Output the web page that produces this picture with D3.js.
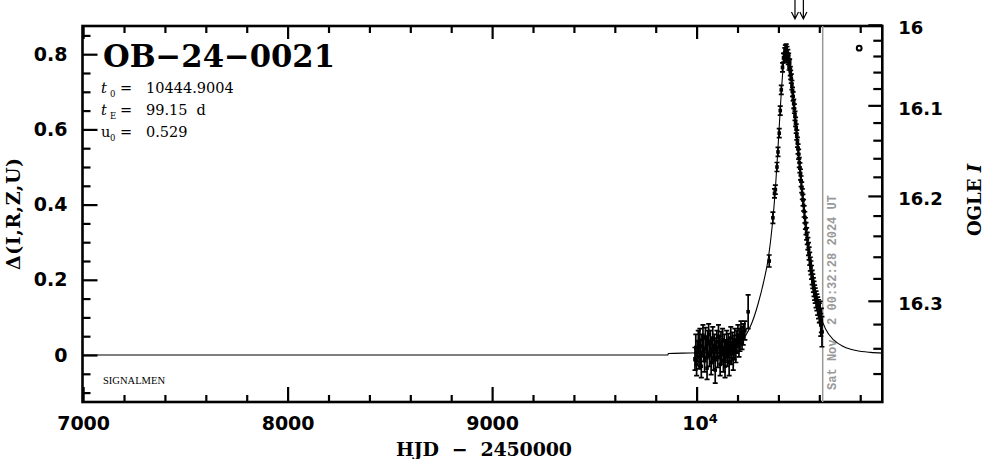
<!DOCTYPE html>
<html><head><meta charset="utf-8">
<script src="https://cdn.jsdelivr.net/npm/d3@7"></script>
<style>body{margin:0;background:#fff}svg{display:block;background:#fff}</style>
</head><body>
<svg id="chart" width="986" height="459"></svg>
<script>
// ---------------- data ----------------
const titleText = "OB\u221224\u22120021";
const paramSymbols = ["t", "t", "u"];
const paramSubs = ["0", "E", "0"];
const paramValues = ["10444.9004", "99.15", "0.529"];
const paramUnits = ["", "d", ""];
const dateLineHJD = 10616.52;
const dateLineText = "Sat Nov  2 00:32:28 2024 UT";
const arrowHJD = [10481, 10522];
const markerHJD = [10795];
const markerDelta = [0.816];

const xMajorTicks = [7000, 8000, 9000, 10000];
const xTickLabels = ["7000", "8000", "9000", "10"];
const xMinorTicks = [7200,7400,7600,7800,8200,8400,8600,8800,9200,9400,9600,9800,10200,10400,10600,10800];
const yMajorTicks = [0, 0.2, 0.4, 0.6, 0.8];
const yTickLabels = ["0", "0.2", "0.4", "0.6", "0.8"];
const yMinorTicks = [-0.1,-0.05,0.05,0.1,0.15,0.25,0.3,0.35,0.45,0.5,0.55,0.65,0.7,0.75,0.85];
const rightMajorTicks = [16.0, 16.1, 16.2, 16.3];
const rightTickLabels = ["16", "16.1", "16.2", "16.3"];
const rightMinorTicks = [16.02,16.04,16.06,16.08,16.12,16.14,16.16,16.18,16.22,16.24,16.26,16.28,16.32,16.34,16.36];
const baseMag = 16.345;
const blendFrac = 0.301;

// model curve
const modelHJD =   [6997, 9860, 9861, 10000, 10100, 10160, 10200, 10240, 10270, 10300, 10330, 10350, 10370, 10385, 10400, 10412, 10425, 10435, 10443, 10452, 10465, 10480, 10495, 10510, 10530, 10555, 10580, 10605, 10630, 10670, 10720, 10780, 10850, 10908];
const modelDelta = [0,    0,    0.004,0.006, 0.011, 0.019, 0.030, 0.052, 0.085, 0.135, 0.200, 0.255, 0.345, 0.440, 0.570, 0.680, 0.775, 0.805, 0.810, 0.785, 0.725, 0.640, 0.555, 0.468, 0.360, 0.248, 0.160, 0.105, 0.070, 0.040, 0.022, 0.012, 0.007, 0.005];

// photometry
const dataHJD = [
 9992,9996,10000,10004,10008,10012,10016,10019,10023,10027,10031,10035,10039,10043,10047,10051,10055,10059,10063,10067,
 10071,10075,10079,10083,10087,10091,10095,10099,10103,10107,10111,10115,10119,10123,10127,10131,10135,10139,10143,10147,
 10151,10155,10159,10163,10167,10171,10175,10179,10183,10187,10192,10197,10202,10207,10212,10217,10222,10228,10236,10252,
 10355,10373,10381,10385,10393,10398,10404,10409,10414,10420,10425,
 10428,10431,10434,10436,10438,10440,10442,10444,10446,10448,10450,10452,10455,10458,
 10460,10463,10466,10469,10472,10475,10478,10481,10484,10487,10490,10493,10496,10499,10502,10505,10508,10511,10514,10517,
 10520,10523,10526,10529,10532,10535,10538,10541,10544,10547,10550,10553,10556,10559,10562,10565,10568,10571,10574,10577,
 10580,10584,10588,10592,10596,10600,10604,10607,10610,10613];
const dataDelta = [
 -0.010,0.020,-0.025,0.010,0.035,-0.005,0.040,0.005,-0.030,0.025,0.050,0.015,-0.015,0.045,0.020,-0.035,0.030,0.055,0.000,0.035,
 -0.020,0.010,0.045,-0.010,0.025,-0.040,0.015,0.035,-0.005,0.050,0.020,-0.025,0.030,0.005,0.040,-0.015,0.020,-0.030,0.010,0.035,
 0.000,0.025,-0.020,0.015,0.045,0.005,0.030,-0.010,0.020,0.040,0.010,0.035,0.050,0.025,0.040,0.060,0.045,0.055,0.065,0.115,
 0.250,0.365,0.430,0.440,0.500,0.540,0.590,0.650,0.705,0.765,0.790,
 0.790,0.805,0.812,0.800,0.815,0.795,0.808,0.790,0.800,0.785,0.790,0.770,0.775,0.755,
 0.745,0.735,0.718,0.700,0.688,0.668,0.655,0.636,0.620,0.602,0.585,0.566,0.548,0.534,0.512,0.498,0.480,0.462,0.446,0.428,
 0.412,0.398,0.382,0.366,0.350,0.336,0.322,0.310,0.296,0.282,0.270,0.256,0.242,0.232,0.220,0.206,0.196,0.186,0.176,0.166,
 0.158,0.148,0.140,0.130,0.122,0.112,0.115,0.080,0.092,0.062];
const dataErr = [
 0.030,0.035,0.030,0.028,0.030,0.032,0.030,0.035,0.030,0.030,0.030,0.032,0.030,0.028,0.030,0.030,0.035,0.028,0.030,0.030,
 0.032,0.030,0.030,0.030,0.030,0.035,0.030,0.030,0.028,0.030,0.030,0.030,0.032,0.030,0.030,0.030,0.035,0.030,0.030,0.030,
 0.030,0.032,0.035,0.030,0.030,0.030,0.030,0.030,0.032,0.030,0.030,0.030,0.030,0.030,0.030,0.030,0.030,0.028,0.025,0.045,
 0.016,0.015,0.012,0.012,0.012,0.012,0.012,0.012,0.012,0.012,0.012,
 0.012,0.012,0.012,0.012,0.012,0.012,0.012,0.012,0.012,0.012,0.012,0.012,0.012,0.012,
 0.012,0.012,0.012,0.012,0.012,0.012,0.012,0.012,0.012,0.012,0.013,0.013,0.013,0.013,0.013,0.013,0.014,0.014,0.014,0.014,
 0.015,0.015,0.015,0.015,0.015,0.016,0.016,0.016,0.016,0.017,0.017,0.017,0.018,0.018,0.018,0.019,0.019,0.019,0.020,0.020,
 0.020,0.022,0.022,0.024,0.025,0.026,0.028,0.030,0.032,0.040];

// ---------------- layout ----------------
const plot = {l: 82.5, r: 882.3, t: 26, b: 402};
const svg = d3.select("#chart");
const x = d3.scaleLinear().domain([6997, 10908]).range([plot.l, plot.r]);
const y = d3.scaleLinear().domain([-0.125, 0.875]).range([plot.b, plot.t]);
// right axis: OGLE I magnitude -> Delta
const deltaOfMag = I => 2.5 * Math.log10((Math.pow(10, 0.4 * (baseMag - I)) - 1) / blendFrac + 1);
const yMag = I => y(deltaOfMag(I));

const tickFont = "DejaVu Sans";
const serif = "DejaVu Serif";

svg.append("defs").append("clipPath").attr("id", "clip")
  .append("rect").attr("x", plot.l).attr("y", plot.t).attr("width", plot.r - plot.l).attr("height", plot.b - plot.t);

function styleAxis(g, w) {
  g.select(".domain").remove();
  g.selectAll(".tick line").attr("stroke", "#000").attr("stroke-width", w);
  g.selectAll(".tick text").attr("font-family", tickFont).attr("font-weight", "bold")
    .attr("font-size", 19).attr("fill", "#000");
}

// bottom axis
svg.append("g").attr("transform", `translate(0,${plot.b})`)
  .call(d3.axisBottom(x).tickValues(xMinorTicks).tickSize(-7).tickFormat(""))
  .call(g => styleAxis(g, 2.2));
const bx = svg.append("g").attr("transform", `translate(0,${plot.b})`)
  .call(d3.axisBottom(x).tickValues(xMajorTicks).tickSize(-15).tickPadding(14.5)
    .tickFormat((d, i) => xTickLabels[i]))
  .call(g => styleAxis(g, 2.2));
bx.selectAll(".tick text").filter(d => d === 10000)
  .append("tspan").attr("font-size", 13).attr("dy", "-0.55em").text("4");
bx.selectAll(".tick text").filter(d => d === 10000).attr("dx", "3");

// top axis
svg.append("g").attr("transform", `translate(0,${plot.t})`)
  .call(d3.axisTop(x).tickValues(xMinorTicks).tickSize(-7).tickFormat(""))
  .call(g => styleAxis(g, 2.2));
svg.append("g").attr("transform", `translate(0,${plot.t})`)
  .call(d3.axisTop(x).tickValues(xMajorTicks).tickSize(-13).tickFormat(""))
  .call(g => styleAxis(g, 2.2));

// left axis
svg.append("g").attr("transform", `translate(${plot.l},0)`)
  .call(d3.axisLeft(y).tickValues(yMinorTicks).tickSize(-8).tickFormat(""))
  .call(g => styleAxis(g, 2.2));
svg.append("g").attr("transform", `translate(${plot.l},0)`)
  .call(d3.axisLeft(y).tickValues(yMajorTicks).tickSize(-15).tickPadding(15)
    .tickFormat((d, i) => yTickLabels[i]))
  .call(g => styleAxis(g, 2.2));

// right axis (OGLE I)
const rg = svg.append("g");
rg.selectAll("line.minor").data(rightMinorTicks).join("line").attr("class", "minor")
  .attr("x1", plot.r).attr("x2", plot.r - 9).attr("y1", d => yMag(d)).attr("y2", d => yMag(d))
  .attr("stroke", "#000").attr("stroke-width", 2.2);
rg.selectAll("line.major").data(rightMajorTicks).join("line").attr("class", "major")
  .attr("x1", plot.r).attr("x2", plot.r - 14).attr("y1", d => yMag(d)).attr("y2", d => yMag(d))
  .attr("stroke", "#000").attr("stroke-width", 2.2);
rg.selectAll("text").data(rightMajorTicks).join("text")
  .attr("x", plot.r + 16).attr("y", d => yMag(d) + 9)
  .attr("font-family", tickFont).attr("font-weight", "bold").attr("font-size", 18)
  .text((d, i) => rightTickLabels[i]);

// frame
svg.append("rect").attr("x", plot.l).attr("y", plot.t).attr("width", plot.r - plot.l)
  .attr("height", plot.b - plot.t).attr("fill", "none").attr("stroke", "#000").attr("stroke-width", 2.6);

// date line
svg.append("line").attr("x1", x(dateLineHJD)).attr("x2", x(dateLineHJD))
  .attr("y1", plot.t).attr("y2", plot.b).attr("stroke", "#999").attr("stroke-width", 1.5);
svg.append("text")
  .attr("transform", `translate(${x(dateLineHJD) + 13.5},390) rotate(-90)`)
  .attr("font-family", "Liberation Mono").attr("font-weight", "bold").attr("font-size", 12)
  .attr("fill", "#999").style("white-space", "pre")
  .attr("textLength", 195).attr("lengthAdjust", "spacingAndGlyphs")
  .text(dateLineText);

// model curve
const model = modelHJD.map((h, i) => [h, modelDelta[i]]);
svg.append("path").datum(model).attr("clip-path", "url(#clip)")
  .attr("d", d3.line().x(d => x(d[0])).y(d => y(d[1])).curve(d3.curveMonotoneX))
  .attr("fill", "none").attr("stroke", "#000").attr("stroke-width", 1.1);

// data with error bars
const pts = dataHJD.map((h, i) => ({h, d: dataDelta[i], e: dataErr[i]}));
const dg = svg.append("g").attr("clip-path", "url(#clip)");
dg.selectAll("path.err").data(pts).join("path").attr("class", "err")
  .attr("d", p => {
    const xx = x(p.h), y1 = y(p.d - p.e), y2 = y(p.d + p.e);
    return `M${xx},${y1}V${y2}M${xx - 2.5},${y1}H${xx + 2.5}M${xx - 2.5},${y2}H${xx + 2.5}`;
  })
  .attr("fill", "none").attr("stroke", "#000").attr("stroke-width", 1.7);
dg.selectAll("rect.pt").data(pts).join("rect").attr("class", "pt")
  .attr("x", p => x(p.h) - 1.8).attr("y", p => y(p.d) - 1.8).attr("width", 3.6).attr("height", 3.6)
  .attr("fill", "#000");

// legend-like open circle
svg.selectAll("circle.mk").data(markerHJD).join("circle").attr("class", "mk")
  .attr("cx", d => x(d)).attr("cy", (d, i) => y(markerDelta[i])).attr("r", 2.4)
  .attr("fill", "none").attr("stroke", "#000").attr("stroke-width", 2);

// arrows above the frame
const ag = svg.append("g").attr("stroke", "#000").attr("stroke-width", 1.2).attr("fill", "none");
ag.selectAll("path").data(arrowHJD).join("path")
  .attr("d", d => { const xx = x(d); return `M${xx},0V19M${xx - 3.5},12L${xx},19L${xx + 3.5},12`; });

// title & parameters
svg.append("text").attr("x", 103).attr("y", 67).attr("font-family", serif).attr("font-weight", "bold")
  .attr("font-size", 31).attr("textLength", 232).attr("lengthAdjust", "spacingAndGlyphs").text(titleText);
const rowY = [92.7, 115, 136.7];
paramSymbols.forEach((s, i) => {
  const g = svg.append("g").attr("font-family", serif).attr("font-size", 14.5).attr("fill", "#000");
  g.append("text").attr("x", 101).attr("y", rowY[i]).attr("font-style", s === "t" ? "italic" : "normal").text(s);
  g.append("text").attr("x", 110).attr("y", rowY[i] + 4).attr("font-size", 8.5).text(paramSubs[i]);
  g.append("text").attr("x", 120).attr("y", rowY[i]).text("=");
  g.append("text").attr("x", 146).attr("y", rowY[i]).text(paramValues[i]);
  if (paramUnits[i]) g.append("text").attr("x", 196.5).attr("y", rowY[i]).text(paramUnits[i]);
});

// SIGNALMEN tag
svg.append("text").attr("x", 103).attr("y", 384).attr("font-family", "Liberation Serif")
  .attr("font-size", 9.5).attr("textLength", 62).attr("lengthAdjust", "spacingAndGlyphs").text("SIGNALMEN");

// axis titles
svg.append("text").attr("x", 484).attr("y", 456).attr("text-anchor", "middle")
  .attr("font-family", serif).attr("font-weight", "bold").attr("font-size", 19)
  .style("white-space", "pre").attr("textLength", 176).text("HJD  \u2212  2450000");
svg.append("text").attr("transform", "translate(20,214) rotate(-90)").attr("text-anchor", "middle")
  .attr("font-family", serif).attr("font-weight", "bold").attr("font-size", 19)
  .attr("textLength", 112).text("\u0394(I,R,Z,U)");
const rl = svg.append("text").attr("transform", "translate(981,200) rotate(-90)").attr("text-anchor", "middle")
  .attr("font-family", serif).attr("font-weight", "bold").attr("font-size", 18);
rl.append("tspan").text("OGLE ");
rl.append("tspan").attr("font-style", "italic").text("I");
</script>
</body></html>
